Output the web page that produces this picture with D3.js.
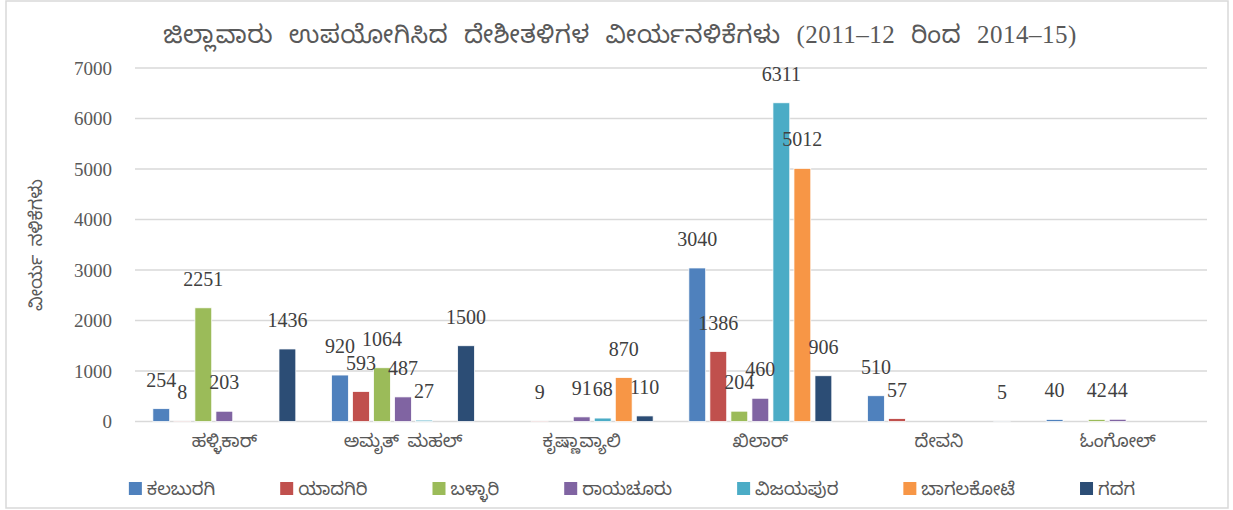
<!DOCTYPE html>
<html>
<head>
<meta charset="utf-8">
<script src="https://cdn.jsdelivr.net/npm/d3@7"></script>
<style>
  body { margin: 0; background: #fff; }
  text { font-family: "Liberation Serif", "Noto Sans Kannada", "Noto Sans", serif; }
</style>
</head>
<body>
<div id="chart"></div>
<script>
// Data
const categories = ["ಹಳ್ಳಿಕಾರ್", "ಅಮೃತ್ ಮಹಲ್", "ಕೃಷ್ಣಾವ್ಯಾಲಿ", "ಖಿಲಾರ್", "ದೇವನಿ", "ಓಂಗೋಲ್"];
const districts = ["ಕಲಬುರಗಿ", "ಯಾದಗಿರಿ", "ಬಳ್ಳಾರಿ", "ರಾಯಚೂರು", "ವಿಜಯಪುರ", "ಬಾಗಲಕೋಟೆ", "ಗದಗ"];
// one array per district, values in category order (null = no bar)
const kalaburagi = [254, 920, null, 3040, 510, 40];
const yadagiri   = [8, 593, 9, 1386, 57, null];
const ballari    = [2251, 1064, null, 204, null, 42];
const raichur    = [203, 487, 91, 460, null, 44];
const vijayapura = [null, 27, 68, 6311, null, null];
const bagalkot   = [null, null, 870, 5012, null, null];
const gadag      = [1436, 1500, 110, 906, 5, null];
const yTicks = [0, 1000, 2000, 3000, 4000, 5000, 6000, 7000];

const seriesValues = [kalaburagi, yadagiri, ballari, raichur, vijayapura, bagalkot, gadag];
const colors = ["#4F81BD", "#C0504D", "#9BBB59", "#8064A2", "#4BACC6", "#F79646", "#2C4D75"];

const W = 1233, H = 510;
const plot = {left: 135, right: 1207, top: 68, bottom: 421.5};

const svg = d3.select("#chart")
  .append("svg")
  .attr("width", W)
  .attr("height", H);

// chart border
svg.append("rect")
  .attr("x", 6).attr("y", 1)
  .attr("width", 1222).attr("height", 507)
  .attr("fill", "#fff")
  .attr("stroke", "#d9d9d9")
  .attr("stroke-width", 1.5);

// Scales
const x0 = d3.scaleBand()
  .domain(categories)
  .range([plot.left, plot.right])
  .paddingInner(0.2)
  .paddingOuter(0.1);

const x1 = d3.scaleBand()
  .domain(districts)
  .range([0, x0.bandwidth()])
  .paddingInner(0.2)
  .paddingOuter(0);

const y = d3.scaleLinear()
  .domain([0, 7000])
  .range([plot.bottom, plot.top]);

// Gridlines
svg.append("g")
  .selectAll("line")
  .data(yTicks)
  .join("line")
  .attr("x1", plot.left)
  .attr("x2", plot.right)
  .attr("y1", d => y(d))
  .attr("y2", d => y(d))
  .attr("stroke", "#d9d9d9")
  .attr("stroke-width", 1.5);

// Y axis labels
svg.append("g")
  .attr("transform", `translate(${plot.left - 23},0)`)
  .call(d3.axisLeft(y).tickValues(yTicks).tickFormat(d3.format("d")).tickSize(0).tickPadding(0))
  .attr("font-family", "Liberation Serif")
  .call(g => g.select(".domain").remove())
  .selectAll("text")
  .attr("dy", "0.32em")
  .style("font-family", "'Liberation Serif', serif")
  .style("font-size", "19px")
  .style("fill", "#595959");

// Y axis title
svg.append("text")
  .attr("transform", "translate(42,245) rotate(-90)")
  .style("text-anchor", "middle")
  .style("font-size", "18px")
  .style("word-spacing", "4px")
  .style("fill", "#595959")
  .text("ವೀರ್ಯ ನಳಿಕೆಗಳು");

// Build bar data
const bars = [];
categories.forEach((c, ci) => {
  districts.forEach((dname, si) => {
    const v = seriesValues[si][ci];
    if (v !== null) bars.push({cat: c, district: dname, si: si, value: v});
  });
});

// Bars
svg.append("g")
  .selectAll("rect")
  .data(bars)
  .join("rect")
  .attr("x", d => x0(d.cat) + x1(d.district))
  .attr("y", d => y(d.value))
  .attr("width", x1.bandwidth())
  .attr("height", d => y(0) - y(d.value))
  .attr("fill", d => colors[d.si])
  .attr("stroke", "#fff")
  .attr("stroke-width", 0.75);

// Data labels
svg.append("g")
  .selectAll("text")
  .data(bars)
  .join("text")
  .attr("x", d => x0(d.cat) + x1(d.district) + x1.bandwidth() / 2)
  .attr("y", d => y(d.value) - 22)
  .style("text-anchor", "middle")
  .style("font-family", "'Liberation Serif', serif")
  .style("font-size", "20px")
  .style("fill", "#404040")
  .text(d => d.value);

// Category labels
svg.append("g")
  .selectAll("text")
  .data(categories)
  .join("text")
  .attr("x", d => x0(d) + x0.bandwidth() / 2)
  .attr("y", 447)
  .style("text-anchor", "middle")
  .style("font-size", "18px")
  .style("word-spacing", "4px")
  .style("fill", "#595959")
  .text(d => d);

// Title
svg.append("text")
  .attr("x", 620)
  .attr("y", 43)
  .style("text-anchor", "middle")
  .style("font-size", "25px")
  .style("word-spacing", "9px")
  .style("letter-spacing", "0.5px")
  .style("fill", "#595959")
  .text("ಜಿಲ್ಲಾವಾರು ಉಪಯೋಗಿಸಿದ ದೇಶೀತಳಿಗಳ ವೀರ್ಯನಳಿಕೆಗಳು (2011–12 ರಿಂದ 2014–15)");

// Legend
const legend = svg.append("g");
const items = legend.selectAll("g")
  .data(districts)
  .join("g");

items.append("rect")
  .attr("y", 482)
  .attr("width", 13)
  .attr("height", 13)
  .attr("fill", (d, i) => colors[i]);

items.append("text")
  .attr("x", 18)
  .attr("y", 495)
  .style("font-size", "18px")
  .style("fill", "#595959")
  .text(d => d);

// lay legend entries out by text width, then centre the row
let cx = 0;
const gap = 65;
items.each(function() {
  const w = 18 + d3.select(this).select("text").node().getComputedTextLength();
  d3.select(this).attr("transform", `translate(${cx},0)`);
  cx += w + gap;
});
const total = cx - gap;
legend.attr("transform", `translate(${632 - total / 2},0)`);
</script>
</body>
</html>
